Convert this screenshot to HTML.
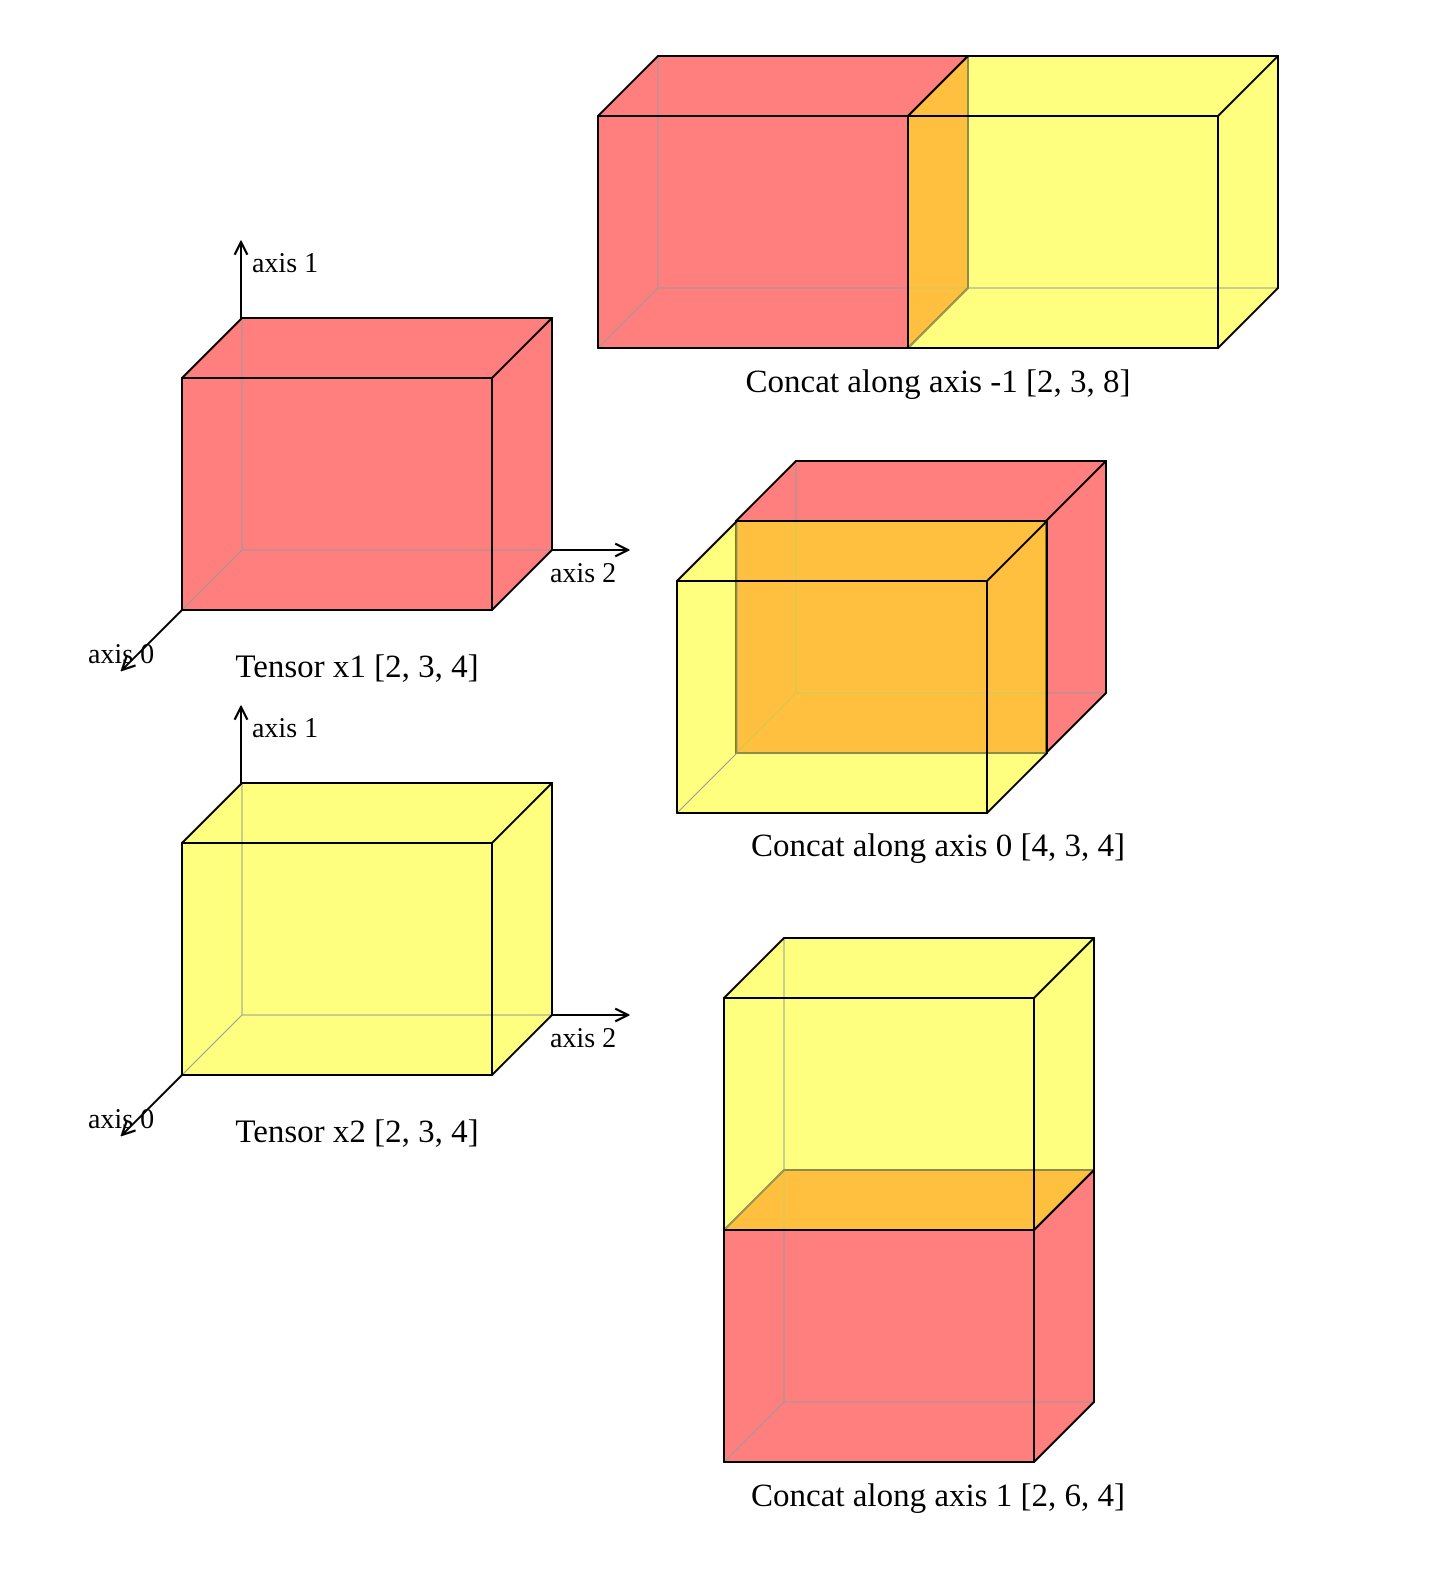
<!DOCTYPE html>
<html><head><meta charset="utf-8">
<style>
html,body{margin:0;padding:0;background:#fff;}
svg{display:block;}
text{font-family:"Liberation Serif",serif;fill:#000;}
</style></head>
<body>
<svg id="fig" width="1436" height="1594" viewBox="0 0 1436 1594" xmlns="http://www.w3.org/2000/svg"></svg>
<script>
// Box data: shape [depth(axis0), height(axis1), width(axis2)], front-bottom-left anchor
const boxNames = ['x1','x2','cat-1-red','cat-1-yellow','cat0-red','cat0-yellow','cat1-red','cat1-yellow'];
const boxShapes = [[2,3,4],[2,3,4],[2,3,4],[2,3,4],[2,3,4],[2,3,4],[2,3,4],[2,3,4]];
const boxColors = ['#ff0000','#ffff00','#ff0000','#ffff00','#ff0000','#ffff00','#ff0000','#ffff00'];
const boxAnchors = [[182,610],[182,1075],[598,348],[908,348],[736,753],[677,813],[724,1462],[724,1230]];
const captions = ['Tensor x1 [2, 3, 4]','Tensor x2 [2, 3, 4]','Concat along axis -1 [2, 3, 8]','Concat along axis 0 [4, 3, 4]','Concat along axis 1 [2, 6, 4]'];
const captionPos = [[357,677],[357,1142],[938,392],[938,856],[938,1506]];

const UX=77.5, UY=77.33, UD=30;
const svg=document.getElementById('fig');
const NS='http://www.w3.org/2000/svg';
function mk(tag,attrs,parent){const e=document.createElementNS(NS,tag);for(const k in attrs)e.setAttribute(k,attrs[k]);(parent||svg).appendChild(e);return e;}

boxNames.forEach((n,i)=>{
  const [d,h,w]=boxShapes[i];const [x,y]=boxAnchors[i];
  const W=w*UX,H=h*UY,D=d*UD;
  const g=mk('g',{});
  
  
  const pts=[[x,y],[x,y-H],[x+D,y-H-D],[x+D+W,y-H-D],[x+D+W,y-D],[x+W,y]].map(p=>p.join(',')).join(' ');
  mk('polygon',{points:pts,fill:boxColors[i],'fill-opacity':0.5,stroke:'none'},g);
  const bx=x+D,by=y-D;
  [[bx,by,bx,by-H],[bx,by,bx+W,by],[bx,by,x,y]].forEach(l=>mk('line',{x1:l[0],y1:l[1],x2:l[2],y2:l[3],stroke:'#999','stroke-width':1},g));
  const vis=[[x,y,x+W,y],[x+W,y,x+W,y-H],[x+W,y-H,x,y-H],[x,y-H,x,y],
    [x,y-H,x+D,y-H-D],[x+D,y-H-D,x+D+W,y-H-D],[x+W,y-H,x+D+W,y-H-D],
    [x+D+W,y-H-D,x+D+W,y-D],[x+W,y,x+D+W,y-D]];
  vis.forEach(l=>mk('line',{x1:l[0],y1:l[1],x2:l[2],y2:l[3],stroke:'#000','stroke-width':2,'stroke-linecap':'round'},g));
});

mk('defs',{}).innerHTML='<marker id="ar" viewBox="0 0 10 10" refX="9" refY="5" markerWidth="8" markerHeight="8" orient="auto-start-reverse"><path d="M1,1 L9,5 L1,9" fill="none" stroke="#000" stroke-width="1.4"/></marker>';
[0,465].forEach((off,k)=>{
  const g=mk('g',{});
  
  
  mk('line',{x1:241,y1:319+off,x2:241,y2:242+off,stroke:'#000','stroke-width':2,'marker-end':'url(#ar)'},g);
  mk('line',{x1:551,y1:550+off,x2:628,y2:550+off,stroke:'#000','stroke-width':2,'marker-end':'url(#ar)'},g);
  mk('line',{x1:182,y1:610+off,x2:122,y2:670+off,stroke:'#000','stroke-width':2,'marker-end':'url(#ar)'},g);
  const t1=mk('text',{x:252,y:272+off,'font-size':28},g);t1.textContent='axis 1';
  
  const t2=mk('text',{x:550,y:582+off,'font-size':28},g);t2.textContent='axis 2';
  
  const t0=mk('text',{x:88,y:663+off,'font-size':28},g);t0.textContent='axis 0';
  
});

captions.forEach((c,i)=>{
  const t=mk('text',{x:captionPos[i][0],y:captionPos[i][1],'font-size':33,'text-anchor':'middle'});
  t.textContent=c;
  
  
});
</script>
</body></html>
